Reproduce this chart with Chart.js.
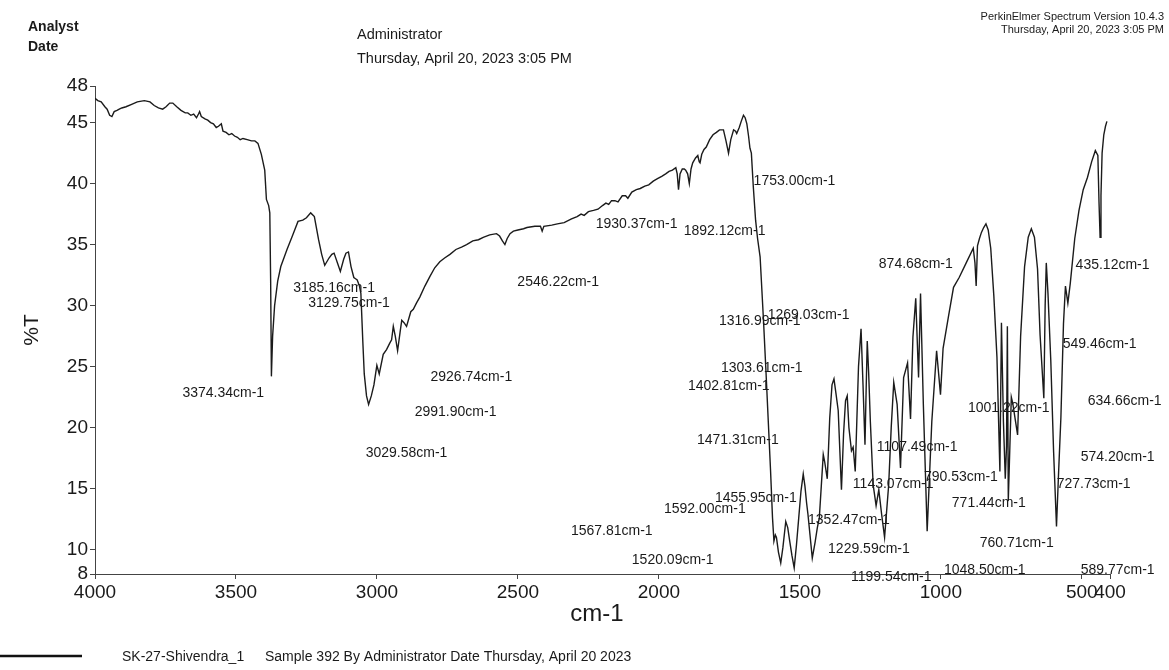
<!DOCTYPE html>
<html>
<head>
<meta charset="utf-8">
<script src="https://cdn.jsdelivr.net/npm/chart.js@4.4.0/dist/chart.umd.min.js"></script>
<style>
  html, body { margin: 0; padding: 0; background: #fff; }
  canvas { display: block; }
</style>
</head>
<body>
<canvas id="irChart" width="1169" height="670"></canvas>
<script>
// IR spectrum - SK-27-Shivendra_1

const wavenumbers = [
  4000, 3990, 3978, 3965, 3957, 3948, 3940, 3932, 3922, 3914, 3905, 3890, 3870, 3850, 3825, 3805,
  3790, 3775, 3760, 3748, 3735, 3724, 3710, 3695, 3680, 3671, 3660, 3650, 3640, 3633, 3629, 3623,
  3610, 3600, 3590, 3580, 3570, 3562, 3552, 3546, 3535, 3525, 3515, 3505, 3495, 3485, 3475, 3460,
  3445, 3433, 3422, 3410, 3398, 3392, 3384, 3380, 3377, 3374.34, 3370, 3363, 3352, 3341, 3330, 3319,
  3300, 3280, 3263, 3250, 3235, 3222, 3207, 3196, 3185.16, 3170, 3160, 3152, 3140, 3129.75, 3118, 3110,
  3101, 3092, 3082, 3076, 3070, 3062, 3057, 3050, 3045, 3037, 3029.58, 3020, 3010.7, 3000.3, 2991.90, 2977.7,
  2966, 2955, 2948, 2942, 2935, 2926.74, 2918, 2912, 2904, 2895, 2880, 2871, 2860, 2848, 2830, 2812,
  2795, 2777, 2760, 2741, 2720, 2700, 2682, 2660, 2640, 2623, 2600, 2576, 2565, 2555, 2546.22, 2538,
  2528, 2516, 2500, 2480, 2468, 2440, 2420, 2414, 2408, 2380, 2360, 2336, 2310, 2290, 2276, 2265,
  2250, 2232, 2216, 2200, 2188, 2178, 2168, 2156, 2145, 2130, 2118, 2110, 2096, 2080, 2066, 2050,
  2036, 2020, 2005, 1990, 1976, 1964, 1952, 1940, 1935, 1930.37, 1925, 1917, 1910, 1905, 1898, 1892.12,
  1886, 1880, 1870, 1862, 1857, 1854, 1848, 1840, 1832, 1820, 1808, 1796, 1785, 1771, 1762, 1753.00,
  1745, 1735, 1728, 1724, 1715, 1708, 1700, 1694, 1688, 1682, 1677, 1672, 1665, 1657, 1650, 1641,
  1629, 1620, 1612, 1604, 1597, 1592.00, 1587, 1583, 1576, 1567.81, 1560, 1550, 1543, 1536, 1528, 1520.09,
  1512, 1504, 1496, 1488, 1482, 1476, 1471.31, 1464, 1455.95, 1446, 1438, 1431, 1424, 1417, 1412, 1402.81,
  1398, 1394, 1386, 1379, 1372, 1364, 1358, 1352.47, 1345, 1338, 1332, 1326, 1316.99, 1311, 1303.61, 1298,
  1292, 1283, 1276, 1269.03, 1265, 1261, 1256, 1250, 1240, 1229.59, 1220, 1210, 1199.54, 1185, 1176, 1167,
  1155, 1143.07, 1132, 1118, 1107.49, 1099, 1089, 1079, 1072, 1062, 1048.50, 1032, 1015, 1001.22, 992, 973,
  955, 935, 910, 885, 879, 874.68, 870, 863, 856, 848, 840, 832, 823, 812, 801, 790.53,
  785, 778, 771.44, 767, 764, 760.71, 750, 745, 727.73, 717, 703, 690, 679, 668, 657, 648,
  634.66, 630, 626, 620, 610, 600, 589.77, 582, 574.20, 565, 558, 549.46, 541, 525, 510, 495,
  480, 465, 452, 443, 439, 435.12, 432, 428, 422, 416, 411
];

const transmittance = [
  47.0, 46.8, 46.7, 46.3, 46.1, 45.6, 45.5, 45.9, 46.0, 46.1, 46.2, 46.3, 46.5, 46.7, 46.8, 46.7,
  46.4, 46.2, 46.1, 46.3, 46.6, 46.6, 46.3, 46.0, 45.8, 45.8, 45.6, 45.7, 45.4, 45.7, 45.9, 45.5,
  45.3, 45.2, 45.0, 44.9, 44.6, 44.7, 44.9, 44.3, 44.2, 44.0, 44.1, 43.9, 43.8, 43.6, 43.7, 43.6,
  43.5, 43.5, 43.3, 42.4, 41.1, 38.7, 38.2, 37.6, 32.0, 24.2, 27.5, 30.0, 32.0, 33.2, 33.9, 34.6,
  35.7, 36.9, 37.0, 37.2, 37.6, 37.3, 35.4, 34.2, 33.3, 33.9, 34.2, 34.3, 33.5, 32.8, 33.8, 34.3,
  34.4, 33.2, 32.3, 32.2, 32.1, 31.6, 31.0, 27.0, 24.4, 22.6, 21.9, 22.6, 23.5, 25.1, 24.4, 26.0,
  26.4, 26.9, 27.2, 28.3, 27.5, 26.3, 27.8, 28.8, 28.6, 28.3, 29.5, 29.7, 30.2, 30.7, 31.6, 32.4,
  33.1, 33.6, 33.9, 34.2, 34.6, 34.8, 35.0, 35.3, 35.4, 35.6, 35.8, 35.9, 35.7, 35.3, 35.0, 35.5,
  35.9, 36.1, 36.2, 36.3, 36.4, 36.5, 36.5, 36.1, 36.5, 36.6, 36.7, 36.8, 37.1, 37.3, 37.5, 37.4,
  37.7, 37.8, 37.9, 38.2, 38.4, 38.3, 38.6, 38.6, 38.5, 39.0, 39.0, 38.8, 39.3, 39.5, 39.6, 39.8,
  39.9, 40.2, 40.4, 40.6, 40.8, 41.0, 41.1, 41.3, 40.8, 39.5, 40.8, 41.2, 41.2, 41.1, 40.8, 40.0,
  41.2, 41.7, 42.1, 42.3, 41.8, 41.7, 42.4, 42.8, 43.0, 43.6, 44.0, 44.2, 44.4, 44.4, 43.5, 42.5,
  43.6, 44.4, 44.3, 44.1, 44.6, 45.1, 45.6, 45.4, 44.9, 43.9, 42.9, 42.5, 39.7, 37.0, 35.5, 34.0,
  28.8, 24.5, 20.5, 16.5, 12.6, 10.7, 11.2, 11.0, 9.8, 8.9, 10.2, 12.3, 11.8, 10.7, 9.5, 8.5,
  10.4, 12.6, 14.8, 16.2, 15.2, 13.8, 12.9, 11.2, 9.3, 10.6, 11.8, 12.6, 15.2, 17.8, 17.2, 15.8,
  18.5, 20.8, 23.5, 24.0, 22.8, 21.4, 18.0, 14.9, 19.5, 22.2, 22.6, 20.0, 18.1, 18.4, 16.4, 20.5,
  25.0, 28.1, 23.5, 18.6, 23.0, 27.1, 24.5, 20.5, 15.3, 13.6, 14.9, 12.9, 11.0, 15.3, 20.0, 23.7,
  21.9, 16.7, 24.1, 25.3, 20.7, 27.4, 30.6, 24.1, 31.0, 21.9, 11.5, 20.5, 26.3, 22.7, 26.5, 29.1,
  31.5, 32.3, 33.5, 34.7, 33.5, 31.6, 34.9, 35.5, 36.0, 36.4, 36.7, 36.2, 34.7, 30.8, 25.8, 16.4,
  28.6, 20.5, 15.8, 18.5, 28.3, 14.0, 22.5, 22.0, 19.4, 27.5, 33.2, 35.6, 36.3, 35.6, 33.0, 27.6,
  22.4, 30.0, 33.5, 31.0, 25.5, 18.0, 11.9, 16.5, 20.8, 28.5, 31.6, 30.2, 31.8, 35.5, 37.8, 39.5,
  40.5, 41.8, 42.7, 42.3, 38.5, 35.6, 39.0, 42.5, 44.0, 44.7, 45.1
];

const xTicks = [4000, 3500, 3000, 2500, 2000, 1500, 1000, 500, 400];
const yTicks = [48, 45, 40, 35, 30, 25, 20, 15, 10, 8];

const peakWavenumbers = [
  3374.34, 3185.16, 3129.75, 3029.58, 2991.90, 2926.74, 2546.22, 1930.37, 1892.12, 1753.00,
  1316.99, 1269.03, 1303.61, 1402.81, 1471.31, 1455.95, 1592.00, 1567.81, 1520.09, 1352.47,
  1229.59, 1199.54, 1143.07, 1107.49, 1048.50, 1001.22, 874.68, 790.53, 771.44, 760.71,
  727.73, 634.66, 589.77, 574.20, 549.46, 435.12
];

// where each peak label is written (cm-1, %T), left edge / middle of text
const labelSpots = [
  [3690, 22.8], [3297, 31.4], [3244, 30.2], [3040, 17.9], [2866, 21.3], [2810, 24.1],
  [2502, 31.9], [2224, 36.7], [1912, 36.1], [1664, 40.2], [1787, 28.7], [1614, 29.2],
  [1780, 24.9], [1897, 23.4], [1865, 19.0], [1801, 14.2], [1982, 13.35], [2312, 11.5],
  [2096, 9.15], [1471, 12.4], [1400, 10.05], [1319, 7.75], [1312, 15.4], [1227, 18.4],
  [989, 8.33], [904, 21.6], [1220, 33.4], [1060, 15.9], [961, 13.8], [862, 10.55],
  [589, 15.4], [479, 22.2], [504, 8.33], [504, 17.55], [568, 26.85], [522, 33.3]
];

const FONT = '"Liberation Sans", Arial, sans-serif';
Chart.defaults.font.family = FONT;
Chart.defaults.color = '#1a1a1a';

const spectrum = wavenumbers.map((wn, i) => ({ x: wn, y: transmittance[i] }));

const textLayer = {
  id: 'textLayer',
  afterDraw(chart) {
    const ctx = chart.ctx;
    const xs = chart.scales.x;
    const ys = chart.scales.y;
    ctx.save();
    ctx.fillStyle = '#1a1a1a';
    ctx.textBaseline = 'middle';

    // peak labels
    ctx.font = '14px ' + FONT;
    ctx.textAlign = 'left';
    peakWavenumbers.forEach((wn, i) => {
      const spot = labelSpots[i];
      ctx.fillText(wn.toFixed(2) + 'cm-1', xs.getPixelForValue(spot[0]), ys.getPixelForValue(spot[1]));
    });

    // header
    ctx.font = 'bold 14px ' + FONT;
    ctx.fillText('Analyst', 28, 27);
    ctx.fillText('Date', 28, 47);
    ctx.font = '14.5px ' + FONT;
    ctx.fillText('Administrator', 357, 35);
    ctx.fillText('Thursday, April 20, 2023 3:05 PM', 357, 59);
    ctx.font = '11px ' + FONT;
    ctx.textAlign = 'right';
    ctx.fillText('PerkinElmer Spectrum Version 10.4.3', 1164, 17);
    ctx.fillText('Thursday, April 20, 2023 3:05 PM', 1164, 30);

    // axis titles
    ctx.textAlign = 'center';
    ctx.font = '24px ' + FONT;
    ctx.fillText('cm-1', 597, 614);
    ctx.save();
    ctx.translate(32, 330);
    ctx.rotate(-Math.PI / 2);
    ctx.font = '21px ' + FONT;
    ctx.fillText('%T', 0, 0);
    ctx.restore();

    // legend
    ctx.strokeStyle = '#111';
    ctx.lineWidth = 2.5;
    ctx.beginPath();
    ctx.moveTo(0, 656);
    ctx.lineTo(82, 656);
    ctx.stroke();
    ctx.textAlign = 'left';
    ctx.font = '14px ' + FONT;
    ctx.fillText('SK-27-Shivendra_1', 122, 657);
    ctx.fillText('Sample 392 By Administrator Date Thursday, April 20 2023', 265, 657);
    ctx.restore();
  }
};

const ctxIR = document.getElementById('irChart').getContext('2d');
const irChart = new Chart(ctxIR, {
  type: 'line',
  data: {
    datasets: [{
      label: 'SK-27-Shivendra_1',
      data: spectrum,
      borderColor: '#1b1b1b',
      borderWidth: 1.4,
      pointRadius: 0,
      tension: 0,
      fill: false
    }]
  },
  options: {
    responsive: false,
    animation: false,
    devicePixelRatio: 1,
    layout: { padding: { left: 0, top: 86, right: 59, bottom: 56 } },
    plugins: {
      legend: { display: false },
      tooltip: { enabled: false }
    },
    scales: {
      x: {
        type: 'linear',
        reverse: true,
        min: 400,
        max: 4000,
        afterBuildTicks: (s) => { s.ticks = xTicks.map(v => ({ value: v })); },
        afterFit: (s) => { s.height = 40; },
        grid: { drawOnChartArea: false, drawTicks: true, tickLength: 5, color: '#444' },
        border: { display: true, color: '#444', width: 1 },
        ticks: {
          autoSkip: false, maxRotation: 0, padding: 2, color: '#1a1a1a', font: { size: 19 },
          callback: (v) => String(v)
        }
      },
      y: {
        min: 8,
        max: 48,
        afterBuildTicks: (s) => { s.ticks = yTicks.map(v => ({ value: v })); },
        afterFit: (s) => { s.width = 95; },
        grid: { drawOnChartArea: false, drawTicks: true, tickLength: 5, color: '#444' },
        border: { display: true, color: '#444', width: 1 },
        ticks: { autoSkip: false, padding: 2, color: '#1a1a1a', font: { size: 19 } }
      }
    }
  },
  plugins: [textLayer]
});
</script>
</body>
</html>
